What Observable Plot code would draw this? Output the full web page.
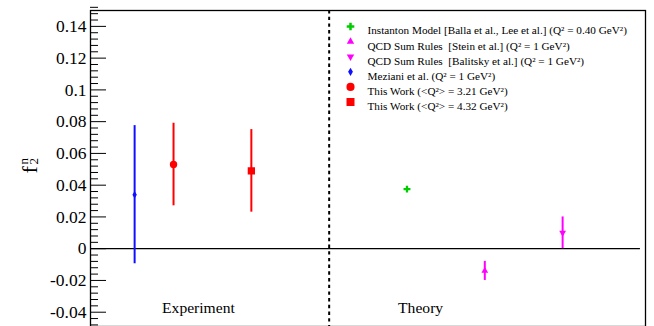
<!DOCTYPE html>
<html>
<head>
<meta charset="utf-8">
<script src="https://cdn.jsdelivr.net/npm/d3@7"></script>
<script src="https://cdn.jsdelivr.net/npm/@observablehq/plot@0.6"></script>
<style>
  html, body { margin: 0; padding: 0; background: #fff; }
  svg { display: block; }
  #chart svg, #chart svg text { font-family: "Liberation Serif", "Times New Roman", serif !important; }
</style>
</head>
<body>
<div id="chart"></div>
<script>
// ---- data ----
const labels   = ["Meziani et al.", "This Work 3.21", "This Work 4.32", "Instanton Model", "QCD Sum Rules Stein", "QCD Sum Rules Balitsky"];
const xPos     = [1, 2, 4, 8, 10, 12];
const values   = [0.034, 0.053, 0.049, 0.0375, -0.014, 0.010];
const errLow   = [0.0435, 0.026, 0.026, 0, 0.006, 0.010];
const errHigh  = [0.0435, 0.026, 0.026, 0, 0.006, 0.010];
const colors   = ["#1010ff", "#ff0000", "#ff0000", "#00cc00", "#ff00ff", "#ff00ff"];
const symbols  = ["diamond", "circle", "square", "cross", "triangle", "triangle"];
const rotations = [0, 0, 0, 0, 0, 180];
const sizes    = [2.3, 3.7, 4.1, 2.9, 2.5, 2.5];

const legendText = [
  "Instanton Model [Balla et al., Lee et al.] (Q² = 0.40 GeV²)",
  "QCD Sum Rules  [Stein et al.] (Q² = 1 GeV²)",
  "QCD Sum Rules  [Balitsky et al.] (Q² = 1 GeV²)",
  "Meziani et al. (Q² = 1 GeV²)",
  "This Work (<Q²> = 3.21 GeV²)",
  "This Work (<Q²> = 4.32 GeV²)"
];
const legendOrder = [3, 4, 5, 0, 1, 2]; // index into series arrays

const groupLabels = ["Experiment", "Theory"];
const groupX = [2.64, 8.35];
const groupY = [-0.0375, -0.0375];
const dividerX = [6];

const majorTicks = [-0.04, -0.02, 0, 0.02, 0.04, 0.06, 0.08, 0.1, 0.12, 0.14];
const xDomain = [-0.134, 14.13];
const yDomain = [-0.049, 0.15];
const zeroLineEnd = 14.0;

// ---- build ----
const points = labels.map((l, i) => ({
  label: l, x: xPos[i], y: values[i],
  lo: values[i] - errLow[i], hi: values[i] + errHigh[i],
  color: colors[i], symbol: symbols[i], rotate: rotations[i], r: sizes[i]
}));
const bars = points.filter(p => p.hi > p.lo);

const minorTicks = d3.range(Math.round(yDomain[0] / 0.004), Math.round(yDomain[1] / 0.004) + 1)
  .map(k => +(k * 0.004).toFixed(3))
  .filter(v => !majorTicks.some(m => Math.abs(m - v) < 1e-9));

const fmt = d => d === 0 ? "0" : String(+d.toFixed(2));
const serif = "Liberation Serif";

const marks = [];
marks.push(Plot.ruleY([0], {x1: xDomain[0], x2: zeroLineEnd, stroke: "#000", strokeWidth: 1.3}));
marks.push(Plot.ruleX(dividerX, {stroke: "#000", strokeWidth: 2, strokeDasharray: "3.4,3.3"}));
marks.push(Plot.ruleX(bars, {x: "x", y1: "lo", y2: "hi", stroke: "color", strokeWidth: 2}));
points.forEach(p => {
  marks.push(Plot.dot([p], {x: "x", y: "y", symbol: () => p.symbol, fill: p.color, stroke: "none", r: p.r, rotate: p.rotate}));
});
marks.push(Plot.text(groupLabels, {x: (d, i) => groupX[i], y: (d, i) => groupY[i], text: d => d,
  fontSize: 15.6, fontFamily: serif, fill: "#000", textAnchor: "middle"}));
marks.push(Plot.axisY(majorTicks, {tickSize: -16, tickFormat: () => "", label: null, strokeWidth: 1}));
marks.push(Plot.axisY(minorTicks, {tickSize: -8, tickFormat: () => "", label: null, strokeWidth: 1}));
marks.push(Plot.axisY(majorTicks, {tickSize: 0, tickPadding: 4, tickFormat: fmt, label: null,
  fontSize: 17.5, fontFamily: serif, fill: "#000", fontVariant: "normal"}));
// y label: f with superscript n and subscript 2 (rotated)
marks.push(Plot.text(["f"], {frameAnchor: "left", dx: -61, dy: 5, rotate: -90, fontSize: 22, fontFamily: serif, fill: "#000"}));
marks.push(Plot.text(["n"], {frameAnchor: "left", dx: -67, dy: -4, rotate: -90, fontSize: 13, fontFamily: serif, fill: "#000"}));
marks.push(Plot.text(["2"], {frameAnchor: "left", dx: -57, dy: -4, rotate: -90, fontSize: 13, fontFamily: serif, fill: "#000"}));
legendOrder.forEach((si, row) => {
  const p = points[si];
  const dy = 16 + row * 15.1;
  marks.push(Plot.dot([p], {frameAnchor: "top-left", dx: 260, dy, symbol: () => p.symbol, fill: p.color, stroke: "none", r: p.r * 1.1, rotate: p.rotate}));
  marks.push(Plot.text([legendText[row]], {frameAnchor: "top-left", dx: 277, dy, text: d => d, textAnchor: "start",
    fontSize: 11.2, fontFamily: serif, fill: "#000"}));
});
marks.push(Plot.frame({stroke: "#000", strokeWidth: 1.3}));

const chart = Plot.plot({
  width: 654,
  height: 326,
  marginLeft: 90,
  marginRight: 9,
  marginTop: 10,
  marginBottom: 0,
  style: {background: "#fff", fontFamily: serif},
  x: {domain: xDomain, axis: null},
  y: {domain: yDomain, axis: null},
  marks
});
document.getElementById("chart").appendChild(chart);
</script>
</body>
</html>
